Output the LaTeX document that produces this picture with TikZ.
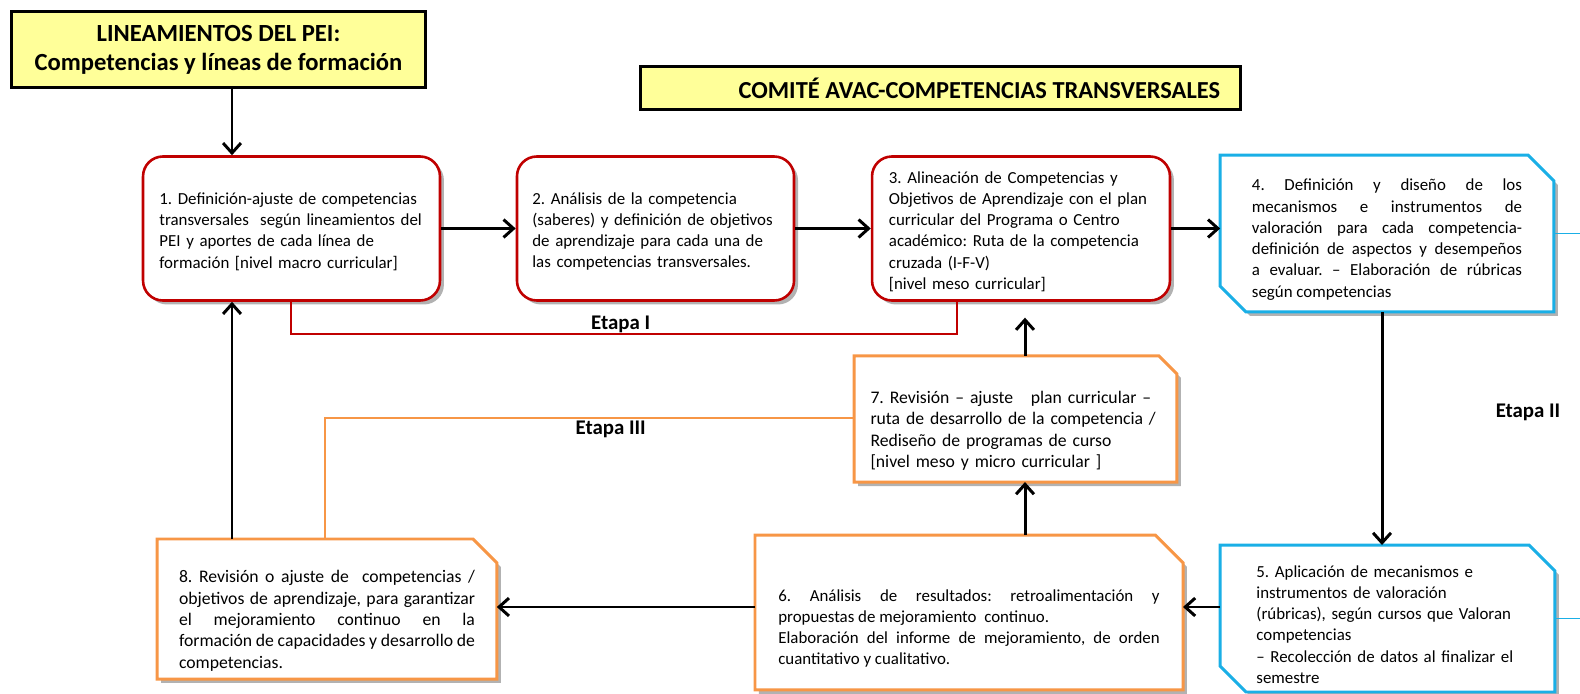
\documentclass[tikz,border=0pt]{standalone}
\usepackage{fontspec}
\setmainfont{Carlito}
\usetikzlibrary{arrows.meta,shadows,backgrounds}

\definecolor{pasoRojo}{HTML}{C00000}
\definecolor{pasoAzul}{HTML}{1AAFE6}
\definecolor{pasoNaranja}{HTML}{F79646}
\definecolor{notaAmarilla}{HTML}{FFFF99}

\newcommand{\boxfont}{\fontsize{8.5}{10.7}\selectfont}
\newcommand{\wideboxfont}{\fontsize{8.9}{10.8}\selectfont}
\newcommand{\pasoalto}{72.5pt}

% caja con esquina cortada arriba a la derecha
\newcommand{\chaflan}[3]{%
  \begin{scope}[on background layer]
  \draw[#2, line width=1.5pt, fill=white, sombra] (#1.north west) -- ([xshift=-#3]#1.north east) -- ([yshift=-#3]#1.north east) -- (#1.south east) -- (#1.south west) -- cycle;
  \end{scope}}
% caja con dos esquinas cortadas
\newcommand{\chaflandoble}[3]{%
  \begin{scope}[on background layer]
  \draw[#2, line width=1.5pt, fill=white, sombra] (#1.north west) -- ([xshift=-#3]#1.north east) -- ([yshift=-#3]#1.north east) -- (#1.south east) -- ([xshift=#3]#1.south west) -- ([yshift=#3]#1.south west) -- cycle;
  \end{scope}}

\tikzset{
  titulo/.style={draw=black, line width=1.5pt, fill=notaAmarilla, align=flush center},
  sombra/.style={drop shadow={shadow xshift=2pt, shadow yshift=-2pt, fill=black, opacity=0.3}},
  pasoI/.style={draw=pasoRojo, line width=1.3pt, rounded corners=10pt, fill=white, sombra, font=\boxfont, align=left, minimum height=\pasoalto},
  pasoCaja/.style={outer sep=0pt, inner sep=0pt, font=\boxfont},
  flecha/.style={line width=1.5pt, -{Straight Barb[length=5pt,width=9pt,line width=1.5pt]}},
  etapa/.style={text=black, font=\bfseries\fontsize{10.5}{12}\selectfont}
}

\begin{document}
\frenchspacing
\begin{tikzpicture}[x=0.5035pt,y=-0.5035pt]

\node[titulo, minimum width=208.5pt, minimum height=38.5pt, text width=200pt, font=\bfseries\fontsize{12.4}{14.5}\selectfont] (pei) at (218.5,49.5) {LINEAMIENTOS DEL PEI:\\Competencias y líneas de formación};
\node[titulo, minimum width=302.5pt, minimum height=22pt, inner xsep=10.5pt, text width=281.5pt, align=flush right, font=\bfseries\fontsize{12.3}{14}\selectfont] (comite) at (940.5,88) {COMITÉ AVAC-COMPETENCIAS TRANSVERSALES};

\node[pasoI, minimum width=149.5pt, text width=133pt] (b1) at (291.5,228.5) {\rule{0pt}{9pt}1. Definición-ajuste de competencias\\transversales \ según lineamientos del\\PEI y aportes de cada línea de\\formación [nivel macro curricular]};
\node[pasoI, minimum width=139.5pt, text width=124pt] (b2) at (655.5,228.5) {\rule{0pt}{9pt}2. Análisis de la competencia\\(saberes) y definición de objetivos\\de aprendizaje para cada una de\\las competencias transversales.};
\node[pasoI, minimum width=150pt, text width=133pt] (b3) at (1021,228.5) {\rule{0pt}{9pt}3. Alineación de Competencias y\\Objetivos de Aprendizaje con el plan\\curricular del Programa o Centro\\académico: Ruta de la competencia\\cruzada (I-F-V)\\{[nivel meso curricular]}};

\node[pasoCaja, minimum width=168pt, minimum height=79pt, text width=136pt, align=justify] (b4) at (1387,233.5) {\rule{0pt}{12pt}4. Definición y diseño de los\linebreak mecanismos e instrumentos de\linebreak valoración para cada competencia-\linebreak definición de aspectos y desempeños\linebreak a evaluar. – Elaboración de rúbricas\linebreak según competencias};
\node[pasoCaja, minimum width=168.5pt, minimum height=74pt, text width=132pt, align=left] (b5) at (1387.5,618.5) {\rule{0pt}{12pt}5. Aplicación de mecanismos e\\instrumentos de valoración\\(rúbricas), según cursos que Valoran\\competencias\\– Recolección de datos al finalizar el\\semestre};
\node[pasoCaja, minimum width=215.5pt, minimum height=78pt, text width=192pt, align=justify] (b6) at (969,612.5) {\rule{0pt}{22pt}6. Análisis de resultados: retroalimentación y\linebreak propuestas de mejoramiento \ continuo.\newline Elaboración del informe de mejoramiento, de orden\linebreak cuantitativo y cualitativo.};
\node[pasoCaja, minimum width=162.5pt, minimum height=63.5pt, text width=146pt, align=left, font=\wideboxfont] (b7) at (1015.5,419) {\rule{0pt}{18pt}7. Revisión – ajuste \ \ plan curricular –\\ruta de desarrollo de la competencia /\\Rediseño de programas de curso\\{[nivel meso y micro curricular ]}};
\node[pasoCaja, minimum width=171pt, minimum height=70.5pt, text width=149pt, align=justify, font=\wideboxfont] (b8) at (327,609) {\rule{0pt}{18pt}8. Revisión o ajuste de \ competencias /\linebreak objetivos de aprendizaje, para garantizar\linebreak el mejoramiento continuo en la\linebreak formación de capacidades y desarrollo de\linebreak competencias.};

\chaflandoble{b4}{pasoAzul}{13pt}
\chaflandoble{b5}{pasoAzul}{13pt}
\chaflan{b6}{pasoNaranja}{14pt}
\chaflan{b7}{pasoNaranja}{9pt}
\chaflan{b8}{pasoNaranja}{12pt}

\coordinate (ejeizq) at (232,0);
\coordinate (ejecentro) at (1025,0);
\coordinate (ejeder) at (1382,0);
\coordinate (ejebajo) at (0,607);
\coordinate (margen) at (1580,0);

\draw[flecha] (pei.south -| ejeizq) -- (b1.north -| ejeizq);
\draw[flecha] (b1.east) -- (b2.west);
\draw[flecha] (b2.east) -- (b3.west);
\draw[flecha] (b3.east) -- (b3.east -| b4.west);
\draw[flecha] (b4.south -| ejeder) -- (b5.north -| ejeder);
\draw[flecha] (b5.west |- ejebajo) -- (b6.east |- ejebajo);
\draw[flecha] (b6.west |- ejebajo) -- (b8.east |- ejebajo);
\draw[flecha] (b6.north -| ejecentro) -- (b7.south -| ejecentro);
\draw[flecha, shorten >=8pt] (b7.north -| ejecentro) -- (b3.south -| ejecentro);
\draw[flecha] (b8.north -| ejeizq) -- (b1.south -| ejeizq);

\coordinate (etapaIa) at (291,334);
\coordinate (etapaIb) at (957,334);
\draw[pasoRojo, line width=0.75pt] (b1.south -| etapaIa) -- (etapaIa) -- node[etapa, above=-3pt, pos=0.495] {Etapa I} (etapaIb) -- (b3.south -| etapaIb);

\coordinate (etapaIIIa) at (325,418);
\draw[pasoNaranja, line width=0.75pt] (b7.west |- etapaIIIa) -- node[etapa, below=-2pt, pos=0.46] {Etapa III} (etapaIIIa) -- (b8.north -| etapaIIIa);

\node[etapa] (etapaII) at (1528,412) {Etapa II};
\draw[pasoAzul, line width=0.8pt] (b4.east) -- (b4.east -| margen);
\draw[pasoAzul, line width=0.8pt] (b5.east) -- (b5.east -| margen);

\pgfresetboundingbox
\path[use as bounding box] (0,0) rectangle (1580,694);
\end{tikzpicture}
\end{document}
